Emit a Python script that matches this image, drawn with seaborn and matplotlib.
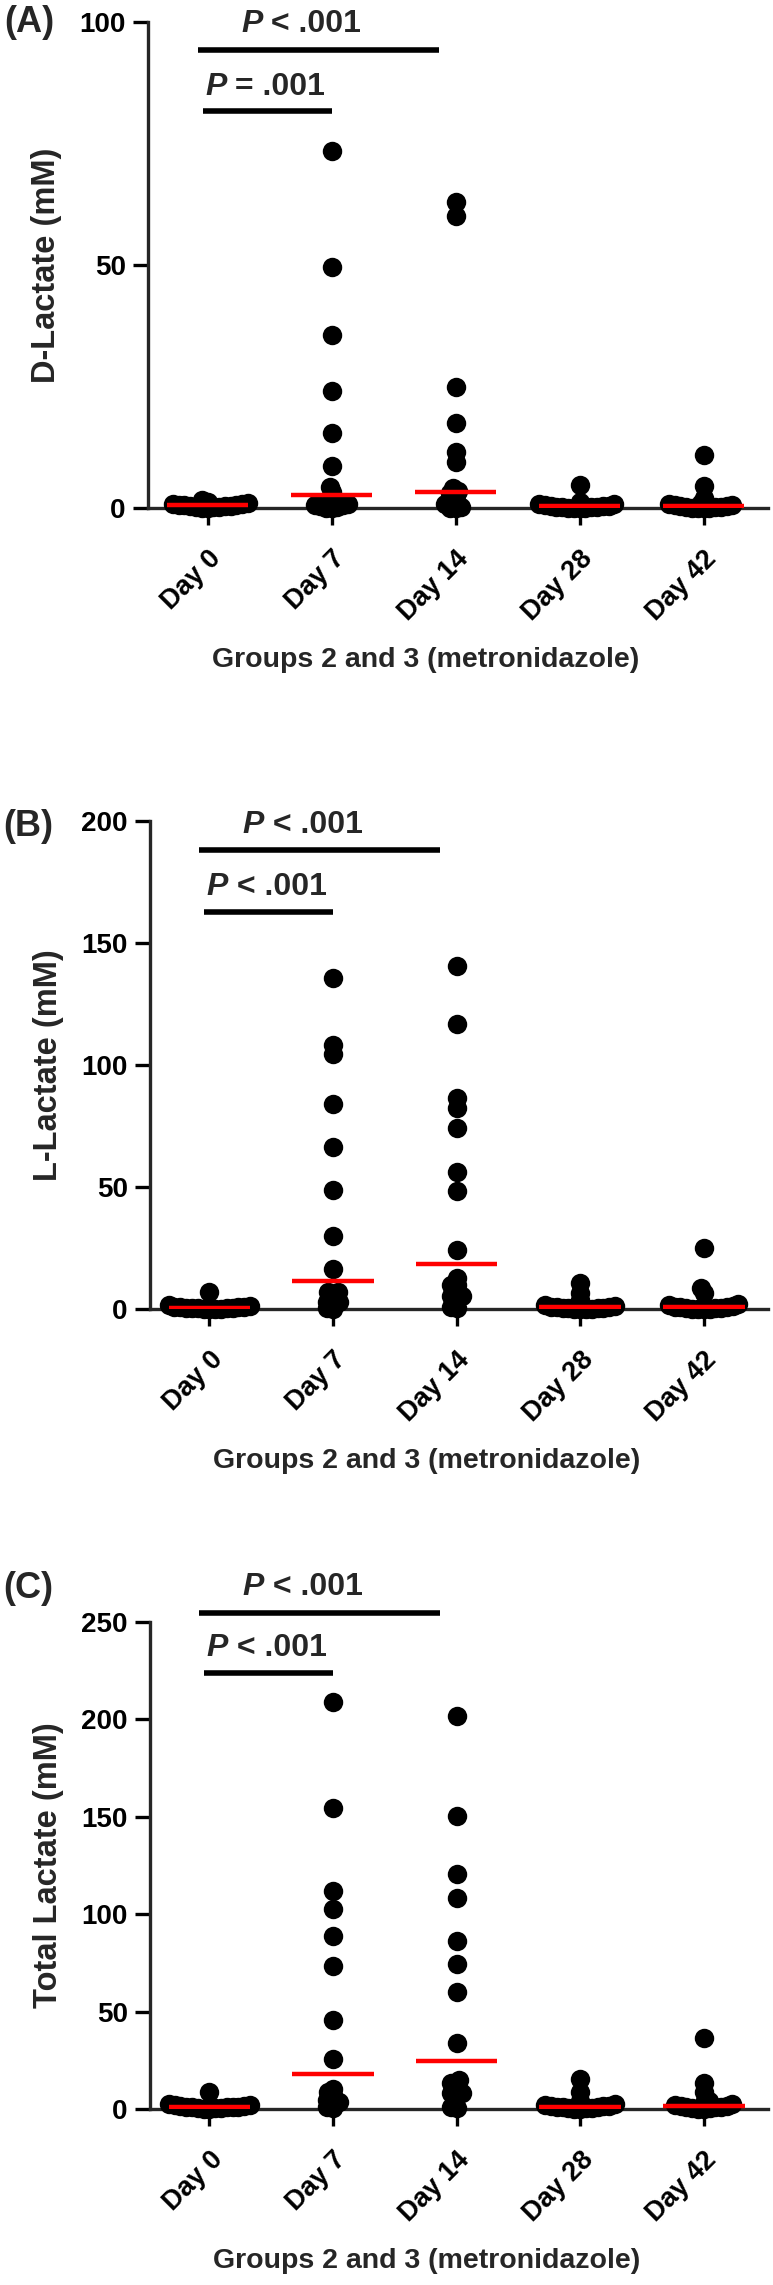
import numpy as np
import pandas as pd
import matplotlib.pyplot as plt
import matplotlib.transforms as mtransforms
import seaborn as sns

sns.set_theme(style='ticks')
plt.rcParams['font.family'] = ['Liberation Sans', 'DejaVu Sans']
plt.rcParams['font.weight'] = 'bold'
plt.rcParams['axes.labelweight'] = 'bold'

days = ['Day 0', 'Day 7', 'Day 14', 'Day 28', 'Day 42']
xlabel = 'Groups 2 and 3 (metronidazole)'

# D-lactate (mM), 16 dogs per timepoint
d_day0 = [1.6, 1.2, 1.0, 0.9, 0.8, 0.7, 0.6, 0.6, 0.5, 0.5, 0.4, 0.3, 0.3, 0.2, 0.1, 0.0]
d_day7 = [73.5, 49.5, 35.5, 24.0, 15.5, 8.6, 4.3, 3.2, 2.0, 0.9, 0.7, 0.6, 0.5, 0.3, 0.1, 0.0]
d_day14 = [63.0, 60.1, 25.0, 17.5, 11.5, 9.5, 4.2, 3.6, 3.0, 2.6, 1.4, 1.1, 0.8, 0.3, 0.1, 0.0]
d_day28 = [4.7, 1.2, 0.9, 0.8, 0.6, 0.5, 0.5, 0.4, 0.3, 0.3, 0.2, 0.2, 0.1, 0.1, 0.0, 0.0]
d_day42 = [10.9, 4.6, 2.0, 1.0, 0.9, 0.7, 0.6, 0.5, 0.4, 0.3, 0.3, 0.2, 0.1, 0.1, 0.0, 0.0]

# L-lactate (mM)
l_day0 = [7.0, 1.5, 1.2, 1.0, 0.9, 0.8, 0.7, 0.6, 0.5, 0.5, 0.4, 0.3, 0.2, 0.2, 0.1, 0.0]
l_day7 = [135.5, 108.0, 104.5, 84.0, 66.5, 48.6, 30.0, 16.3, 7.0, 6.8, 5.7, 3.0, 2.8, 2.5, 0.6, 0.2]
l_day14 = [140.5, 117.0, 86.5, 82.4, 74.0, 56.0, 48.2, 24.0, 12.6, 9.8, 9.8, 5.3, 5.3, 5.3, 0.8, 0.6]
l_day28 = [10.6, 6.5, 3.7, 1.5, 1.2, 1.0, 0.9, 0.8, 0.6, 0.5, 0.4, 0.3, 0.2, 0.2, 0.1, 0.0]
l_day42 = [25.0, 8.6, 6.5, 2.0, 1.5, 1.2, 1.0, 0.8, 0.7, 0.5, 0.4, 0.3, 0.2, 0.1, 0.1, 0.0]

# total lactate (mM)
t_day0 = [8.9, 2.5, 2.0, 1.8, 1.6, 1.4, 1.2, 1.1, 1.0, 0.9, 0.8, 0.6, 0.5, 0.3, 0.2, 0.0]
t_day7 = [209.0, 154.5, 112.0, 102.7, 88.8, 73.4, 45.7, 25.7, 10.3, 8.7, 7.2, 4.6, 3.6, 3.6, 1.0, 0.3]
t_day14 = [202.0, 150.5, 120.8, 108.5, 86.2, 74.4, 60.2, 34.0, 14.9, 13.3, 12.3, 8.2, 8.2, 8.2, 0.8, 0.3]
t_day28 = [15.4, 8.7, 4.2, 2.5, 2.0, 1.7, 1.5, 1.3, 1.1, 0.9, 0.8, 0.6, 0.5, 0.3, 0.2, 0.1]
t_day42 = [36.5, 13.3, 8.9, 4.0, 3.0, 2.4, 2.0, 1.7, 1.4, 1.2, 1.0, 0.8, 0.6, 0.4, 0.2, 0.1]

p_labels = {'A': ('P', ' < .001', ' = .001'), 'B': ('P', ' < .001', ' < .001'), 'C': ('P', ' < .001', ' < .001')}


def make_df(groups):
    return pd.DataFrame({'day': np.repeat(days, [len(g) for g in groups]),
                         'value': np.concatenate(groups)})


fig = plt.figure(figsize=(7.73, 22.85), dpi=100)
W, H = 773, 2285


def add_ax(left, right, top, bottom):
    return fig.add_axes([left / W, (H - bottom) / H, (right - left) / W, (bottom - top) / H])


panels = [
    ('A', add_ax(148, 768, 22, 508), make_df([d_day0, d_day7, d_day14, d_day28, d_day42]),
     'D-Lactate (mM)', 100, 50, (99.6, 94.2, 86.6, 81.7), (29, 23)),
    ('B', add_ax(150, 768, 821, 1309), make_df([l_day0, l_day7, l_day14, l_day28, l_day42]),
     'L-Lactate (mM)', 200, 50, (198.4, 188.0, 173.0, 162.7), (28, 827)),
    ('C', add_ax(150, 768, 1622, 2109), make_df([t_day0, t_day7, t_day14, t_day28, t_day42]),
     'Total Lactate (mM)', 250, 50, (268.0, 254.6, 236.7, 223.8), (28, 1588)),
]

label_shift = mtransforms.ScaledTranslation(0.08, 0, fig.dpi_scale_trans)

for tag, ax, df, ylabel, ymax, ystep, ann, tagpos in panels:
    sns.swarmplot(data=df, x='day', y='value', order=days, color='black', size=4,
                  linewidth=0, clip_on=False, zorder=3, ax=ax)
    sns.boxplot(data=df, x='day', y='value', order=days, width=0.66,
                showbox=False, showcaps=False, showfliers=False,
                whiskerprops={'visible': False},
                medianprops={'color': 'red', 'linewidth': 3.2, 'zorder': 5},
                ax=ax)
    ax.set_xlim(-0.48, 4.52)
    ax.set_ylim(0, ymax)
    ax.set_yticks(np.arange(0, ymax + 1, ystep))
    ax.set_xticks(range(len(days)))
    ax.set_xticklabels(days, rotation=45, ha='right', va='top', rotation_mode='anchor')
    for lbl in ax.get_xticklabels():
        lbl.set_transform(lbl.get_transform() + label_shift)
    sns.despine(ax=ax)
    for s in ('left', 'bottom'):
        ax.spines[s].set_linewidth(2.4)
    ax.tick_params(axis='y', width=2.4, length=11, labelsize=20, pad=5, colors='black')
    ax.tick_params(axis='x', width=2.4, length=12, labelsize=19.5, pad=15, colors='black')
    ax.set_ylabel(ylabel, fontsize=23.5)
    ax.yaxis.set_label_coords(-0.139, 0.5)
    ax.set_xlabel(xlabel, fontsize=20.5)
    ax.xaxis.set_label_coords(0.447, -0.285)

    # significance brackets: Day 0 vs Day 14 (top), Day 0 vs Day 7 (lower)
    p, top_rest, low_rest = p_labels[tag]
    y_toptext, y_topbar, y_lowtext, y_lowbar = ann
    ax.plot([-0.08, 1.87], [y_topbar, y_topbar], color='black', lw=4, clip_on=False, solid_capstyle='butt')
    ax.plot([-0.04, 1.0], [y_lowbar, y_lowbar], color='black', lw=4, clip_on=False, solid_capstyle='butt')
    for x, y, rest in [(0.27, y_toptext, top_rest), (-0.02, y_lowtext, low_rest)]:
        t = ax.text(x, y, p, style='italic', fontweight='bold', fontsize=23,
                    ha='left', va='center', clip_on=False)
        ax.annotate(rest, xy=(1, 0), xycoords=t, ha='left', va='bottom',
                    fontsize=23, fontweight='bold')

    fig.text(tagpos[0] / W, 1 - tagpos[1] / H, f'({tag})', fontsize=26,
             fontweight='bold', ha='center', va='center')

# fix the swarm layout computed with a small marker, then show bigger dots
fig.canvas.draw()
for _, ax, *_ in panels:
    for coll in ax.collections:
        coll.__dict__.pop('draw', None)
        coll.set_sizes([14.0 ** 2])

fig.savefig('out.png', dpi=100)
